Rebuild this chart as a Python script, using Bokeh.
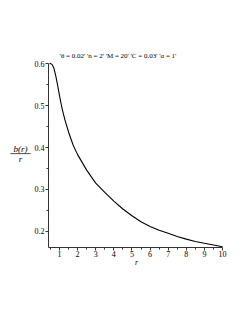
from bokeh.plotting import figure
from bokeh.models import Label, BoxAnnotation, FixedTicker
from bokeh.embed import file_html
from bokeh.resources import INLINE

r_vals = [0.45, 0.5, 0.6, 0.7, 0.8, 0.9, 1.0, 1.1, 1.2, 1.3, 1.5, 1.75, 2.0, 2.5, 3.0,
          3.5, 4.0, 4.5, 5.0, 5.5, 6.0, 6.5, 7.0, 7.5, 8.0, 8.5, 9.0, 9.5, 10.0]
ratio_vals = [0.600, 0.601, 0.598, 0.588, 0.570, 0.548, 0.524, 0.502, 0.483, 0.466, 0.437,
              0.406, 0.383, 0.346, 0.315, 0.293, 0.272, 0.253, 0.237, 0.2225, 0.2115,
              0.2025, 0.195, 0.1875, 0.181, 0.1755, 0.171, 0.167, 0.163]
x_ticks = [1, 2, 3, 4, 5, 6, 7, 8, 9, 10]
x_minor = [0.5, 1.5, 2.5, 3.5, 4.5, 5.5, 6.5, 7.5, 8.5, 9.5]
y_ticks = [0.2, 0.3, 0.4, 0.5, 0.6]
y_minor = [0.25, 0.35, 0.45, 0.55]
title_text = "'\u03b8 = 0.02' 'n = 2' 'M = 20' 'C = 0.03' '\u03b1 = 1'"

FONT = "Liberation Serif"
W, H = 229, 301
X0, X1 = 0.39, 10.0      # data extent of r
Y0, Y1 = 0.1615, 0.6015  # data extent of b(r)/r

# frame covers whole canvas; axes are pinned at the data extent
p = figure(width=W, height=H, output_backend="svg", toolbar_location=None,
           x_range=(-2.2577, 10.3865), y_range=(0.032, 0.7513),
           min_border_left=0, min_border_right=0, min_border_top=0, min_border_bottom=0)
p.outline_line_color = None
p.grid.visible = False
p.background_fill_color = "white"
p.border_fill_color = "white"

p.line(r_vals, ratio_vals, line_color="black", line_width=1.1)

for ax in (p.xaxis[0], p.yaxis[0]):
    ax.axis_line_color = "#333333"
    ax.major_tick_line_color = "#333333"
    ax.minor_tick_line_color = "#333333"
    ax.major_tick_in = 0
    ax.major_tick_out = 3
    ax.minor_tick_in = 0
    ax.minor_tick_out = 2
    ax.major_label_text_font = FONT
    ax.major_label_text_font_size = "8px"
    ax.major_label_text_color = "black"
    ax.major_label_standoff = 1

p.xaxis.ticker = FixedTicker(ticks=x_ticks, minor_ticks=x_minor)
p.yaxis.ticker = FixedTicker(ticks=y_ticks, minor_ticks=y_minor)
p.xaxis.fixed_location = Y0
p.yaxis.fixed_location = X0
p.xaxis.bounds = (X0, X1)
p.yaxis.bounds = (Y0, Y1)

def lab(x, y, text, style="normal", size="8px"):
    p.add_layout(Label(x=x, y=y, x_units="screen", y_units="screen", text=text,
                       text_font=FONT, text_font_style=style, text_font_size=size,
                       text_color="black", text_align="center", text_baseline="middle"))

lab(117.5, H - 55.5, title_text, size="7px")
lab(136, H - 262, "r", "italic")
lab(20, H - 148.5, "b(r)", "italic", size="9px")
lab(20, H - 158.5, "r", "italic", size="9px")
p.add_layout(BoxAnnotation(left=10, right=30, bottom=H - 153.5, top=H - 153,
                           left_units="screen", right_units="screen",
                           bottom_units="screen", top_units="screen",
                           fill_color="black", fill_alpha=1.0, line_color="black",
                           line_width=0.5))

open("out.html", "w").write(file_html(p, INLINE))
